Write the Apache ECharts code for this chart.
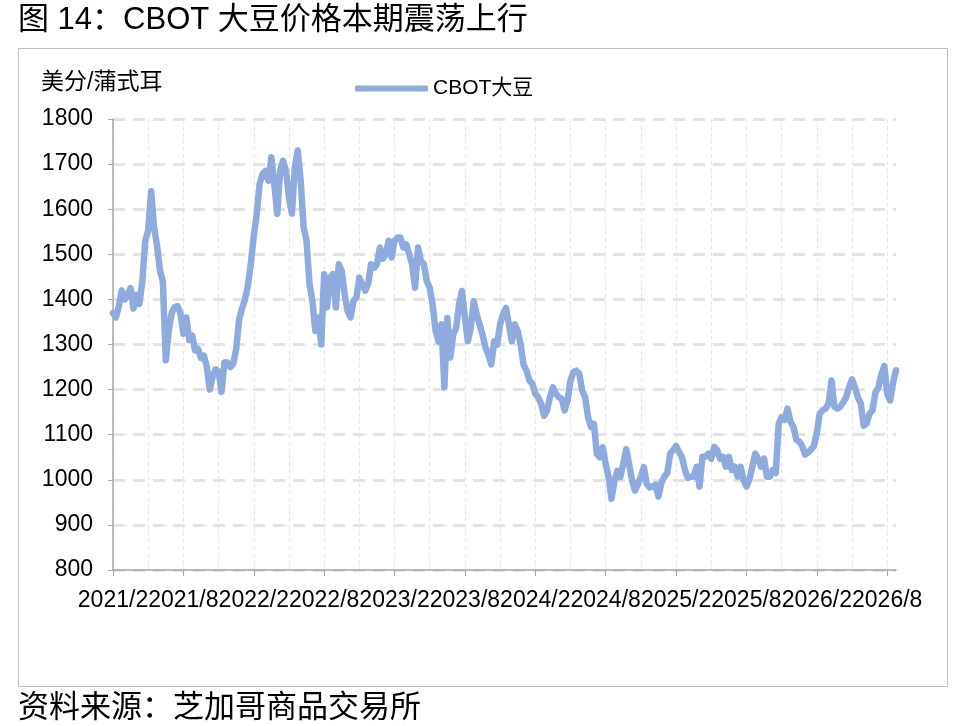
<!DOCTYPE html>
<html>
<head>
<meta charset="utf-8">
<script src="https://cdn.jsdelivr.net/npm/echarts@6/dist/echarts.min.js"></script>
<style>
html,body{margin:0;padding:0;background:#fff}
#main{width:980px;height:726px}
</style>
</head>
<body>
<div id="main"></div>
<script>
// 月份（横轴）
var months = ['2021/2','2021/3','2021/4','2021/5','2021/6','2021/7','2021/8','2021/9','2021/10','2021/11','2021/12',
	'2022/1','2022/2','2022/3','2022/4','2022/5','2022/6','2022/7','2022/8','2022/9','2022/10','2022/11','2022/12',
	'2023/1','2023/2','2023/3','2023/4','2023/5','2023/6','2023/7','2023/8','2023/9','2023/10','2023/11','2023/12',
	'2024/1','2024/2','2024/3','2024/4','2024/5','2024/6','2024/7','2024/8','2024/9','2024/10','2024/11','2024/12',
	'2025/1','2025/2','2025/3','2025/4','2025/5','2025/6','2025/7','2025/8','2025/9','2025/10','2025/11','2025/12',
	'2026/1','2026/2','2026/3','2026/4','2026/5','2026/6','2026/7','2026/8'];

// CBOT大豆，每月四个读数（约每周一个）
var soybean = [
	[1370,1360,1385,1420],[1400,1410,1425,1380],[1410,1390,1440,1530],[1553,1640,1560,1520],
	[1465,1440,1265,1330],[1370,1383,1385,1370],[1324,1360,1310,1320],[1287,1290,1270,1275],
	[1250,1200,1230,1245],[1240,1195,1260,1260],[1250,1257,1290,1355],
	[1380,1400,1430,1480],[1540,1589,1656,1678],[1685,1663,1715,1656],[1590,1685,1707,1685],
	[1626,1590,1693,1730],[1663,1560,1530,1434],[1397,1330,1360,1300],[1456,1382,1448,1456],
	[1382,1478,1463,1411],[1374,1360,1397,1404],[1448,1434,1419,1434],[1478,1470,1478,1515],
	[1490,1500,1530,1493],[1530,1537,1537,1515],[1522,1500,1478,1426],[1515,1485,1478,1441],
	[1426,1389,1330,1307],[1345,1205,1359,1271],[1322,1337,1389,1419],[1359,1307,1337,1396],
	[1367,1345,1322,1293],[1278,1256,1307,1300],[1345,1367,1381,1345],[1307,1345,1330,1300],
	[1255,1242,1220,1213],[1191,1183,1168,1142],[1154,1183,1205,1191],[1183,1180,1154,1176],
	[1220,1239,1242,1235],[1198,1183,1139,1117],[1124,1057,1050,1072],[1035,1006,958,998],
	[1020,1006,1035,1068],[1035,998,976,991],[1006,1028,991,983],[985,989,963,993],
	[1007,1015,1058,1066],[1075,1062,1051,1022],[1004,1007,1007,1029],[985,1051,1051,1058],
	[1047,1073,1066,1047],[1051,1029,1051,1022],[1029,1007,1029,1000],[985,1000,1029,1058],
	[1047,1029,1047,1007],[1007,1022,1015,1124],[1139,1133,1158,1129],[1118,1089,1085,1075],
	[1056,1060,1067,1075],[1104,1147,1154,1158],[1169,1220,1162,1158],[1162,1172,1183,1205],
	[1223,1205,1183,1169],[1120,1125,1147,1154],[1194,1205,1234,1252],[1191,1176,1215,1243]
];

// 刻度标签
var tickLabels = ['2021/2','2021/8','2022/2','2022/8','2023/2','2023/8','2024/2','2024/8','2025/2','2025/8','2026/2','2026/8'];
var quarterLines = ['2021/5','2021/11','2022/5','2022/11','2023/5','2023/11','2024/5','2024/11','2025/5','2025/11','2026/5'];
var yMin = 800, yMax = 1800, yStep = 100;

var FONT = "'Liberation Sans', Arial, 'Noto Sans CJK SC', sans-serif";

var seriesData = [];
for (var i = 0; i < soybean.length; i++) {
	for (var k = 0; k < soybean[i].length; k++) {
		seriesData.push([i + k / 4, soybean[i][k]]);
	}
}
var tickIdx = tickLabels.map(function (m) { return months.indexOf(m); });
var quarterIdx = quarterLines.map(function (m) { return months.indexOf(m); });
var xMax = soybean.length - 1 + 0.75;

var myChart = echarts.init(document.getElementById('main'));
var vLine = { show: true, lineStyle: { color: '#e6e6e6', width: 1, type: [4, 3] } };

var option = {
	animation: false,
	textStyle: { fontFamily: FONT },
	title: [{
		text: '图 14：CBOT 大豆价格本期震荡上行',
		left: 13, top: 0,
		textStyle: { fontFamily: FONT, fontSize: 31, fontWeight: 'normal', color: '#000' }
	}, {
		text: '资料来源：芝加哥商品交易所',
		left: 13, top: 688,
		textStyle: { fontFamily: FONT, fontSize: 31, fontWeight: 'normal', color: '#000' }
	}],
	graphic: [{
		type: 'rect',
		shape: { x: 18.5, y: 48.5, width: 929, height: 638 },
		style: { fill: 'none', stroke: '#bfbfbf', lineWidth: 1 },
		silent: true
	}, {
		type: 'text',
		left: 41, top: 71,
		style: { text: '美分/蒲式耳', fontFamily: FONT, fontSize: 23, fill: '#000' }
	}],
	legend: {
		data: ['CBOT大豆'],
		left: 350, top: 73,
		icon: 'roundRect',
		itemWidth: 73, itemHeight: 6, itemGap: 4,
		textStyle: { fontFamily: FONT, fontSize: 21, color: '#000' }
	},
	grid: { left: 113, right: 84, top: 119, bottom: 156 },
	xAxis: [{
		type: 'value',
		min: 0, max: xMax,
		axisLine: { show: true, lineStyle: { color: '#a6a6a6', width: 1.5 } },
		axisTick: { show: true, customValues: tickIdx, length: 6, lineStyle: { color: '#a6a6a6' } },
		axisLabel: {
			customValues: tickIdx,
			color: '#000', fontSize: 23, fontFamily: FONT, margin: 19,
			formatter: function (v) { return months[Math.round(v)]; }
		},
		splitLine: vLine
	}, {
		type: 'value',
		position: 'bottom',
		min: 0, max: xMax,
		axisLine: { show: false },
		axisTick: { show: false, customValues: quarterIdx },
		axisLabel: { show: false, customValues: quarterIdx },
		splitLine: vLine
	}],
	yAxis: {
		type: 'value',
		min: yMin, max: yMax, interval: yStep,
		axisLine: { show: true, lineStyle: { color: '#a6a6a6', width: 1.5 } },
		axisTick: { show: true, length: 5, lineStyle: { color: '#a6a6a6' } },
		axisLabel: {
			color: '#000', fontSize: 23, fontFamily: FONT, margin: 20,
			formatter: function (v) { return String(v); }
		},
		splitLine: { show: true, lineStyle: { color: '#e3e3e3', width: 3, type: [12, 8] } }
	},
	series: [{
		name: 'CBOT大豆',
		type: 'line',
		xAxisIndex: 0,
		data: seriesData,
		symbol: 'none',
		showSymbol: false,
		itemStyle: { color: '#8faadc' },
		lineStyle: { color: '#8faadc', width: 6.5, cap: 'round', join: 'round' },
		z: 5
	}]
};
myChart.setOption(option);
</script>
</body>
</html>
